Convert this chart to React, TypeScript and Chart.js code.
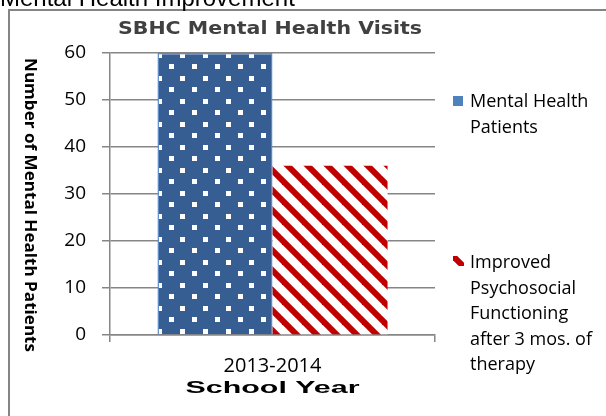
import React, { useEffect, useRef } from "react";
import { Chart, registerables } from "chart.js";

Chart.register(...registerables);

// ---- data ----
const pageHeading = "Mental Health Improvement";
const chartTitle = "SBHC Mental Health Visits";
const categories = ["2013-2014"];
const seriesNames = [
  "Mental Health Patients",
  "Improved Psychosocial Functioning after 3 mos. of therapy",
];
const legendLines = [
  ["Mental Health", "Patients"],
  ["Improved", "Psychosocial", "Functioning", "after 3 mos. of", "therapy"],
];
const mentalHealthPatients = [60];
const improvedFunctioning = [36];
const yMin = 0;
const yMax = 60;
const yStep = 10;
const xAxisTitle = "School Year";
const yAxisTitle = "Number of Mental Health Patients";

// ---- styles ----
const W = 606;
const H = 416;
const GRID = "#868686";
const BLUE = "#375E92";
const BLUE_LIGHT = "#4F81BD";
const RED = "#C00000";

function makeDotPattern(ctx: CanvasRenderingContext2D) {
  const c = document.createElement("canvas");
  c.width = 23;
  c.height = 23;
  const g = c.getContext("2d")!;
  g.fillStyle = BLUE;
  g.fillRect(0, 0, 23, 23);
  g.fillStyle = "#ffffff";
  g.fillRect(0, 0, 5, 5);
  g.fillRect(12, 11, 5, 5);
  const p = ctx.createPattern(c, "repeat")!;
  p.setTransform(new DOMMatrix().translate(19, 7));
  return p;
}

function makeStripePattern(ctx: CanvasRenderingContext2D, dx: number, dy: number) {
  const c = document.createElement("canvas");
  c.width = 20;
  c.height = 20;
  const g = c.getContext("2d")!;
  g.fillStyle = "#ffffff";
  g.fillRect(0, 0, 20, 20);
  g.strokeStyle = RED;
  g.lineWidth = 6;
  for (let k = -40; k <= 40; k += 20) {
    g.beginPath();
    g.moveTo(k - 5, -5);
    g.lineTo(k + 25, 25);
    g.stroke();
  }
  const p = ctx.createPattern(c, "repeat")!;
  p.setTransform(new DOMMatrix().translate(dx, dy));
  return p;
}

function fitText(
  ctx: CanvasRenderingContext2D,
  text: string,
  cx: number,
  cy: number,
  targetWidth: number,
  rotate = 0
) {
  const w = ctx.measureText(text).width;
  const sx = targetWidth / w;
  ctx.save();
  ctx.translate(cx, cy);
  if (rotate) ctx.rotate(rotate);
  ctx.scale(sx, 1);
  ctx.textAlign = "center";
  ctx.textBaseline = "middle";
  ctx.fillText(text, 0, 0);
  ctx.restore();
}

const decorPlugin = {
  id: "decor",
  beforeDraw(chart: any) {
    const ctx: CanvasRenderingContext2D = chart.ctx;
    ctx.save();
    ctx.fillStyle = "#ffffff";
    ctx.fillRect(0, 0, W, H);
    // outer frame (top and left visible)
    ctx.fillStyle = "#858585";
    ctx.fillRect(8, 9, W - 8, 2);
    ctx.fillRect(8, 9, 2, H - 9);
    // page heading, cut at the top
    ctx.fillStyle = "#000000";
    ctx.font = '24px "Liberation Sans", Arial, sans-serif';
    ctx.textAlign = "left";
    ctx.textBaseline = "alphabetic";
    ctx.fillText(pageHeading, 0, 6);
    ctx.restore();
  },
  afterDraw(chart: any) {
    const ctx: CanvasRenderingContext2D = chart.ctx;
    const area = chart.chartArea;
    ctx.save();
    // chart title
    ctx.fillStyle = "#404040";
    ctx.font = 'bold 17px "DejaVu Sans", sans-serif';
    fitText(ctx, chartTitle, 270, 30, 304);
    // y axis title (reads top to bottom)
    ctx.fillStyle = "#000000";
    ctx.font = 'bold 16px "Open Sans", sans-serif';
    fitText(ctx, yAxisTitle, 30, 205, 294, Math.PI / 2);
    // x axis title
    ctx.font = 'bold 17px "Liberation Sans", Arial, sans-serif';
    fitText(ctx, xAxisTitle, (area.left + area.right) / 2, 388, 174);

    // legend
    const textX = 470;
    const firstBaselines = [107, 268];
    const lineStep = 25.5;
    ctx.font = '18px "Open Sans", sans-serif';
    ctx.textAlign = "left";
    ctx.textBaseline = "alphabetic";
    legendLines.forEach((lines, i) => {
      const b0 = firstBaselines[i];
      if (i === 0) {
        ctx.fillStyle = BLUE_LIGHT;
        ctx.fillRect(453, b0 - 11, 10, 10);
      } else {
        ctx.fillStyle = makeStripePattern(ctx, 453, b0 - 12);
        ctx.fillRect(453, b0 - 12, 11, 10);
      }
      ctx.fillStyle = "#000000";
      lines.forEach((ln, j) => {
        ctx.fillText(ln, textX, b0 + j * lineStep);
      });
    });
    ctx.restore();
  },
};

export default function App() {
  const ref = useRef<HTMLCanvasElement | null>(null);

  useEffect(() => {
    const canvas = ref.current!;
    const ctx = canvas.getContext("2d")!;
    const chart = new Chart(canvas, {
      type: "bar",
      data: {
        labels: categories,
        datasets: [
          {
            label: seriesNames[0],
            data: mentalHealthPatients,
            backgroundColor: makeDotPattern(ctx),
            borderColor: "#5A8AC6",
            borderWidth: 1.5,
            categoryPercentage: 0.708,
            barPercentage: 1,
          },
          {
            label: seriesNames[1],
            data: improvedFunctioning,
            backgroundColor: makeStripePattern(ctx, 2, 0),
            borderWidth: 0,
            categoryPercentage: 0.708,
            barPercentage: 1,
          },
        ],
      },
      options: {
        animation: false,
        responsive: false,
        devicePixelRatio: 1,
        layout: { padding: { top: 53, right: W - 435, bottom: 0, left: 0 } },
        plugins: {
          legend: { display: false },
          title: { display: false },
          tooltip: { enabled: false },
        },
        scales: {
          x: {
            offset: true,
            grid: {
              display: true,
              drawOnChartArea: false,
              drawTicks: true,
              tickLength: 7,
              color: GRID,
              lineWidth: 1.5,
              offset: true,
            },
            border: { display: true, color: GRID, width: 1.5 },
            ticks: {
              color: "#000000",
              font: { family: '"Open Sans", sans-serif', size: 20 },
              padding: 12,
              maxRotation: 0,
            },
            afterFit: (s: any) => {
              s.height = H - 335;
            },
          },
          y: {
            min: yMin,
            max: yMax,
            grid: { color: GRID, lineWidth: 1.5, tickLength: 8 },
            border: { display: true, color: GRID, width: 1.5 },
            ticks: {
              stepSize: yStep,
              color: "#000000",
              font: { family: '"Open Sans", sans-serif', size: 19 },
              padding: 16,
            },
            afterFit: (s: any) => {
              s.width = 110;
            },
          },
        },
      },
      plugins: [decorPlugin],
    });
    return () => chart.destroy();
  }, []);

  return (
    <canvas
      ref={ref}
      width={W}
      height={H}
      style={{ position: "absolute", left: 0, top: 0, width: W, height: H, display: "block" }}
    />
  );
}
